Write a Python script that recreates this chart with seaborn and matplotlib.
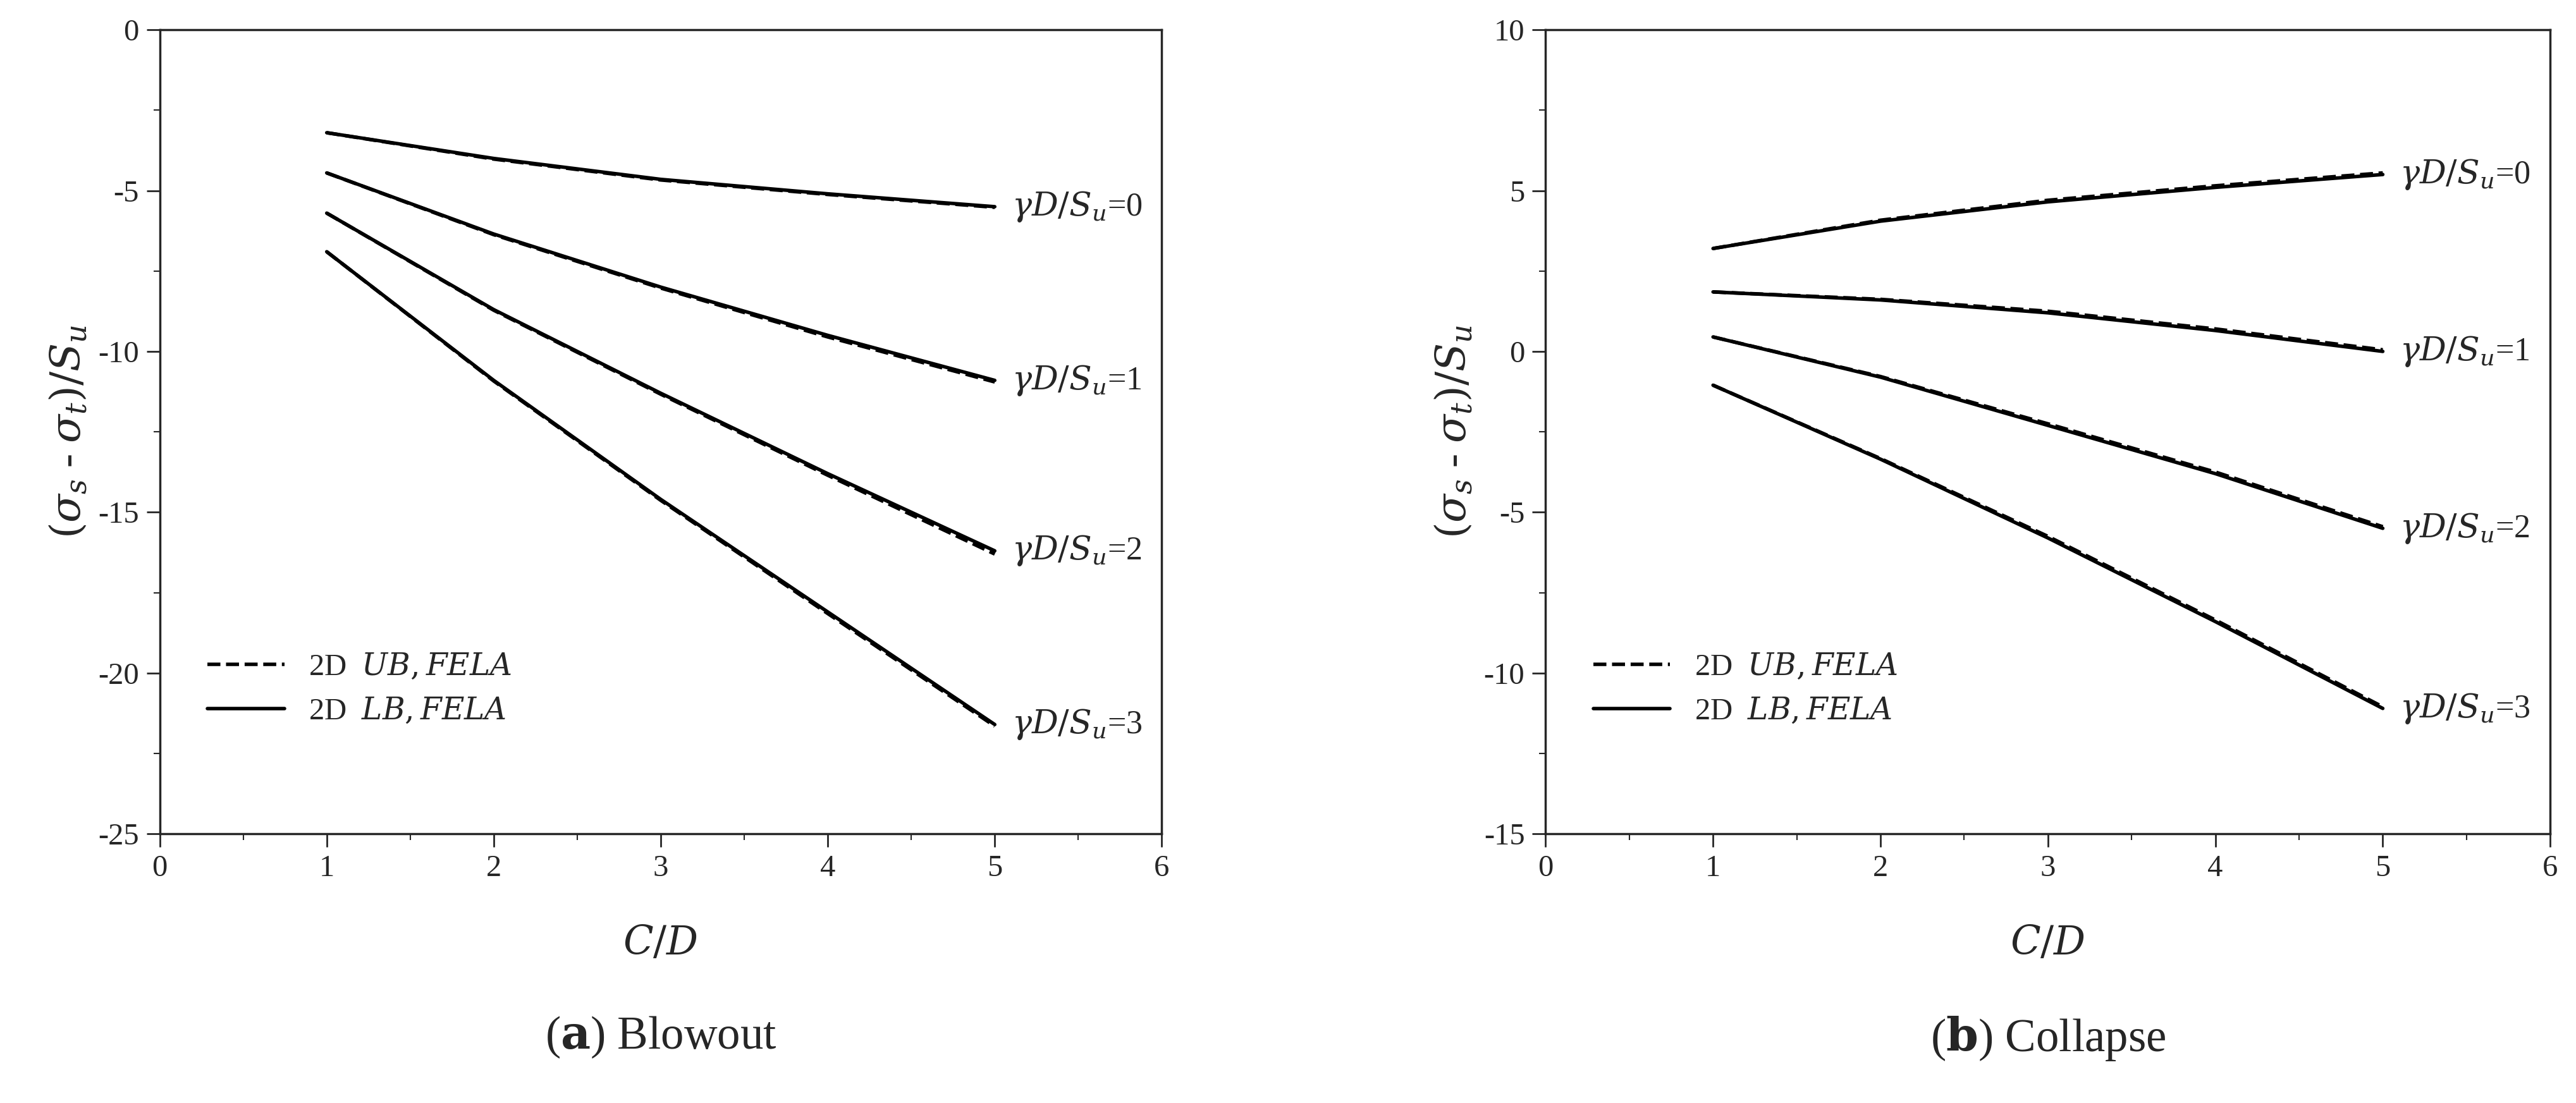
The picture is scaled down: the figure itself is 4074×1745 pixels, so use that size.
import numpy as np
import pandas as pd
import matplotlib
matplotlib.use("Agg")
import matplotlib.pyplot as plt
import seaborn as sns
from matplotlib.ticker import MultipleLocator

cd = [1, 2, 3, 4, 5]
gammas = [0, 1, 2, 3]

# blowout, lower bound / upper bound (nearly identical)
blow_lb = {0: [-3.2, -4.0, -4.65, -5.1, -5.5],
           1: [-4.45, -6.35, -8.0, -9.5, -10.9],
           2: [-5.7, -8.7, -11.3, -13.8, -16.2],
           3: [-6.9, -10.9, -14.6, -18.1, -21.6]}
blow_ub = {0: [-3.2, -4.02, -4.67, -5.12, -5.52],
           1: [-4.45, -6.37, -8.03, -9.55, -10.95],
           2: [-5.7, -8.72, -11.33, -13.85, -16.3],
           3: [-6.9, -10.92, -14.63, -18.15, -21.65]}
coll_lb = {0: [3.2, 4.05, 4.65, 5.1, 5.5],
           1: [1.85, 1.6, 1.2, 0.65, 0.0],
           2: [0.45, -0.8, -2.3, -3.8, -5.5],
           3: [-1.05, -3.35, -5.8, -8.4, -11.1]}
coll_ub = {0: [3.2, 4.08, 4.7, 5.15, 5.55],
           1: [1.85, 1.62, 1.25, 0.7, 0.05],
           2: [0.45, -0.78, -2.25, -3.75, -5.45],
           3: [-1.05, -3.33, -5.75, -8.35, -11.05]}

sns.set_style("ticks")
plt.rcParams['font.family'] = ['Liberation Serif', 'DejaVu Serif']
plt.rcParams['mathtext.fontset'] = 'dejavuserif'
plt.rcParams['axes.unicode_minus'] = False

fig = plt.figure(figsize=(16.296, 6.98), dpi=250)
ax1 = fig.add_axes([0.062, 0.244, 0.389, 0.729])
ax2 = fig.add_axes([0.600, 0.244, 0.390, 0.729])


def draw(ax, lb, ub, ylim, ymajor, caption):
    for g in gammas:
        df = pd.DataFrame({"cd": cd, "lb": lb[g], "ub": ub[g]})
        sns.lineplot(data=df, x="cd", y="lb", ax=ax, color="black", lw=1.6,
                     label="2D  $\\it{LB, FELA}$" if g == 0 else None)
        sns.lineplot(data=df, x="cd", y="ub", ax=ax, color="black", lw=1.6,
                     linestyle="--",
                     label="2D  $\\it{UB, FELA}$" if g == 0 else None)
        ax.text(5.1, lb[g][-1], "$\\gamma D/S_u$=%d" % g, fontsize=15,
                va="center", ha="left")
    ax.set_xlim(0, 6)
    ax.set_ylim(*ylim)
    ax.xaxis.set_major_locator(MultipleLocator(1))
    ax.xaxis.set_minor_locator(MultipleLocator(0.5))
    ax.yaxis.set_major_locator(MultipleLocator(ymajor))
    ax.yaxis.set_minor_locator(MultipleLocator(ymajor / 2))
    ax.tick_params(which="both", direction="out", labelsize=14)
    ax.tick_params(which="major", length=6)
    ax.tick_params(which="minor", length=3)
    ax.set_xlabel("$C/D$", fontsize=18, labelpad=20)
    ax.set_ylabel("$(\\sigma_s$ - $\\sigma_t)/S_u$", fontsize=19)
    for s in ax.spines.values():
        s.set_linewidth(1.0)
    h, l = ax.get_legend_handles_labels()
    ax.legend([h[1], h[0]], [l[1], l[0]], loc="lower left",
              bbox_to_anchor=(0.02, 0.1), frameon=False, fontsize=14,
              handlelength=2.5)
    ax.text(0.5, -0.225, caption, transform=ax.transAxes, ha="center",
            va="top", fontsize=21)


draw(ax1, blow_lb, blow_ub, (-25, 0), 5, "($\\bf{a}$) Blowout")
draw(ax2, coll_lb, coll_ub, (-15, 10), 5, "($\\bf{b}$) Collapse")

fig.savefig("out.png", dpi=250)
